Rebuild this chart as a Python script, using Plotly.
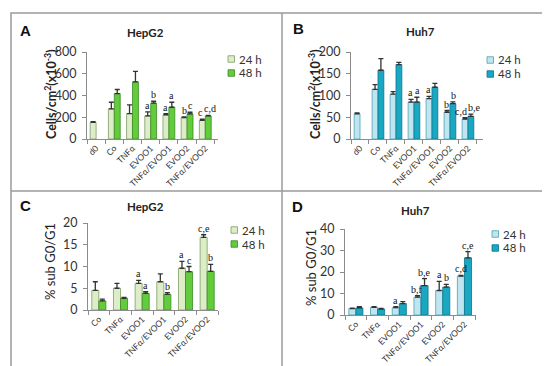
import plotly.graph_objects as go

# ---------------- data ----------------
cats_AB = ["d0", "Co", "TNFα", "EVOO1", "TNFα/EVOO1", "EVOO2", "TNFα/EVOO2"]
cats_CD = ["Co", "TNFα", "EVOO1", "TNFα/EVOO1", "EVOO2", "TNFα/EVOO2"]

A_24 = [154, 277, 234, 212, 222, 197, 172]
A_24_err = [5, 61, 80, 37, 12, 6, 10]
A_48 = [None, 418, 526, 329, 292, 231, 212]
A_48_err = [0, 37, 95, 18, 46, 15, 6]
A_24_lab = ["", "", "", "a", "a", "b", "c"]
A_48_lab = ["", "", "", "b", "a", "c", "c,d"]

B_24 = [58, 114, 103, 85, 93, 61.5, 46]
B_24_err = [2, 11, 6, 6, 5, 4, 3]
B_48 = [None, 158, 171, 85, 119, 81.5, 52]
B_48_err = [0, 27, 5, 11, 9, 4, 5]
B_24_lab = ["", "", "", "a", "a", "b", "c,d"]
B_48_lab = ["", "", "", "a", "", "b", "b,e"]

C_24 = [4.5, 5.0, 6.1, 6.5, 9.6, 16.7]
C_24_err = [2.0, 1.1, 0.7, 1.8, 1.6, 0.6]
C_48 = [2.1, 2.7, 3.8, 3.6, 8.8, 8.9]
C_48_err = [0.4, 0.2, 0.4, 0.4, 1.2, 1.6]
C_24_lab = ["", "", "a", "", "a", "c,e"]
C_48_lab = ["", "", "a", "b", "c", "b"]

D_24 = [3.0, 3.6, 3.4, 8.3, 11.4, 18.1]
D_24_err = [0.2, 0.3, 0.5, 0.7, 4.2, 0.3]
D_48 = [3.3, 2.8, 5.3, 13.7, 13.0, 26.6]
D_48_err = [0.6, 0.3, 0.9, 3.2, 1.2, 2.9]
D_24_lab = ["", "", "a", "b,f", "a", "c,d"]
D_48_lab = ["", "", "", "b,e", "b", "c,e"]

series_names = ["24 h", "48 h"]
y_title_cells = "<b>Cells/cm<sup>2</sup>(x10<sup>-3</sup>)</b>"
y_title_sub = "% sub G0/G1"

# ---------------- style ----------------
W, H = 550, 366
FONT = "Lato, 'Open Sans', sans-serif"
SERIF = "'Liberation Serif', 'DejaVu Serif', serif"
green = {"24 h": ("#dcedc8", "#7f9c66"), "48 h": ("#62cc3c", "#3b8a22")}
cyan = {"24 h": ("#bfe6f0", "#4f9fb2"), "48 h": ("#19a7c2", "#0d7489")}


def fx(p):
    return p / W


def fy(p):
    return 1 - p / H


def text_w(t):
    # rough width of a 10 px serif label
    return sum(2.5 if ch == "," else 4.8 for ch in t)


panels = [
    dict(suf="", cats=cats_AB, d=(A_24, A_48), e=(A_24_err, A_48_err), lab=(A_24_lab, A_48_lab),
         cols=green, domx=(79, 210), domy=(44, 131), rng=[0, 800], dtick=200,
         ytitle=y_title_cells, ytpos=(42, 86), ytsize=12.5,
         title="HepG2", tpos=(137, 25), letter="A", lpos=(17, 23), leg=(220, 51)),
    dict(suf="2", cats=cats_AB, d=(B_24, B_48), e=(B_24_err, B_48_err), lab=(B_24_lab, B_48_lab),
         cols=cyan, domx=(343, 475), domy=(44, 131), rng=[0, 200], dtick=50,
         ytitle=y_title_cells, ytpos=(306, 86), ytsize=12.5,
         title="Huh7", tpos=(412, 24), letter="B", lpos=(290, 21), leg=(479, 52)),
    dict(suf="3", cats=cats_CD, d=(C_24, C_48), e=(C_24_err, C_48_err), lab=(C_24_lab, C_48_lab),
         cols=green, domx=(80, 210), domy=(215, 302), rng=[0, 20], dtick=5,
         ytitle=y_title_sub, ytpos=(42, 254), ytsize=13,
         title="HepG2", tpos=(137, 198), letter="C", lpos=(17, 197), leg=(223, 222)),
    dict(suf="4", cats=cats_CD, d=(D_24, D_48), e=(D_24_err, D_48_err), lab=(D_24_lab, D_48_lab),
         cols=cyan, domx=(337, 468), domy=(221, 307), rng=[0, 40], dtick=10,
         ytitle=y_title_sub, ytpos=(303, 260), ytsize=13,
         title="Huh7", tpos=(407, 203), letter="D", lpos=(289, 198), leg=(484, 226)),
]

fig = go.Figure()
annotations = []
shapes = []
layout = {}
BARGAP = 0.35

for p in panels:
    suf = p["suf"]
    xa, ya = "x" + suf, "y" + suf
    cats = p["cats"]
    for name, vals, errs in zip(series_names, p["d"], p["e"]):
        fill, edge = p["cols"][name]
        fig.add_trace(go.Bar(
            x=cats, y=vals, name=name, xaxis=xa, yaxis=ya, showlegend=False,
            marker=dict(color=fill, line=dict(color=edge, width=0.8)),
            error_y=dict(type="data", array=errs, arrayminus=[0] * len(errs),
                         symmetric=False, color="#333333", thickness=1.3, width=2.5),
        ))
    # significance letters above the error caps
    cat_w = (p["domx"][1] - p["domx"][0]) / len(cats)
    half = cat_w * (1 - BARGAP) / 4
    plot_h = p["domy"][1] - p["domy"][0]
    scale = plot_h / (p["rng"][1] - p["rng"][0])
    (d24, d48), (e24, e48), (l24, l48) = p["d"], p["e"], p["lab"]
    for i, c in enumerate(cats):
        t1, t2 = l24[i], l48[i]
        push = 0.0
        if t1 and t2 and d48[i] is not None:
            y1 = (d24[i] + e24[i]) * scale
            y2 = (d48[i] + e48[i]) * scale
            overlap = (text_w(t1) + text_w(t2)) / 2 + 1 - 2 * half
            if abs(y1 - y2) < 11 and overlap > 0:
                push = overlap / 2
        for t, v, e, base, sgn in ((t1, d24[i], e24[i], -half, -1), (t2, d48[i], e48[i], half, 1)):
            if t and v is not None:
                annotations.append(dict(
                    x=c, y=v + e, xref=xa, yref=ya, text=t, showarrow=False,
                    xshift=base + sgn * push, yshift=-1, xanchor="center", yanchor="bottom",
                    font=dict(family=SERIF, size=10, color="#111")))
    # panel title, letter, y-axis title
    annotations.append(dict(x=fx(p["tpos"][0]), y=fy(p["tpos"][1]), xref="paper", yref="paper",
                            text="<b>%s</b>" % p["title"], showarrow=False,
                            xanchor="center", yanchor="middle",
                            font=dict(family=FONT, size=11.5, color="#222")))
    annotations.append(dict(x=fx(p["lpos"][0]), y=fy(p["lpos"][1]), xref="paper", yref="paper",
                            text="<b>%s</b>" % p["letter"], showarrow=False,
                            xanchor="center", yanchor="middle",
                            font=dict(family="'Liberation Sans', Arial, sans-serif", size=15, color="#111")))
    annotations.append(dict(x=fx(p["ytpos"][0]), y=fy(p["ytpos"][1]), xref="paper", yref="paper",
                            text=p["ytitle"], showarrow=False, textangle=-90,
                            xanchor="center", yanchor="middle",
                            font=dict(family=FONT, size=p["ytsize"], color="#222")))
    # legend (manual, to mimic the compact original)
    lx, ly = p["leg"]
    for i, name in enumerate(series_names):
        fill, edge = p["cols"][name]
        cy = ly + 14 * i
        shapes.append(dict(type="rect", xref="paper", yref="paper",
                           x0=fx(lx), x1=fx(lx + 6.5), y0=fy(cy + 3.25), y1=fy(cy - 3.25),
                           fillcolor=fill, line=dict(color=edge, width=0.8)))
        annotations.append(dict(x=fx(lx + 8.5), y=fy(cy), xref="paper", yref="paper",
                                text=name, showarrow=False, xanchor="left", yanchor="middle",
                                font=dict(family=FONT, size=11.5, color="#333")))

    layout["xaxis" + suf] = dict(
        domain=[fx(p["domx"][0]), fx(p["domx"][1])], anchor=ya, type="category",
        categoryorder="array", categoryarray=cats,
        showline=True, linecolor="#8c8c8c", linewidth=1, ticks="outside", tickson="boundaries",
        ticklen=4, tickcolor="#8c8c8c", tickangle=-45,
        tickfont=dict(family=FONT, size=8.5, color="#333"), showgrid=False, zeroline=False,
        automargin=False,
    )
    layout["yaxis" + suf] = dict(
        domain=[fy(p["domy"][1]), fy(p["domy"][0])], anchor=xa, range=p["rng"], dtick=p["dtick"],
        showline=True, linecolor="#8c8c8c", linewidth=1, ticks="outside", ticklen=4,
        tickcolor="#8c8c8c", showgrid=False, zeroline=False, ticklabelstandoff=3,
        tickfont=dict(family=FONT, size=12.5, color="#333"), automargin=False,
    )

shapes += [
    dict(type="rect", xref="paper", yref="paper", x0=fx(3), x1=fx(544), y0=fy(361), y1=fy(5),
         line=dict(color="#9a9a9a", width=1.5)),
    dict(type="line", xref="paper", yref="paper", x0=fx(274), x1=fx(274), y0=fy(361), y1=fy(5),
         line=dict(color="#9a9a9a", width=1.5)),
    dict(type="line", xref="paper", yref="paper", x0=fx(3), x1=fx(544), y0=fy(183), y1=fy(183),
         line=dict(color="#9a9a9a", width=1.5)),
]

fig.update_layout(
    width=W, height=H, margin=dict(l=0, r=0, t=0, b=0, autoexpand=False),
    paper_bgcolor="white", plot_bgcolor="white", showlegend=False,
    barmode="group", bargap=BARGAP, bargroupgap=0,
    annotations=annotations, shapes=shapes, **layout,
)

fig.write_html("out.html")
